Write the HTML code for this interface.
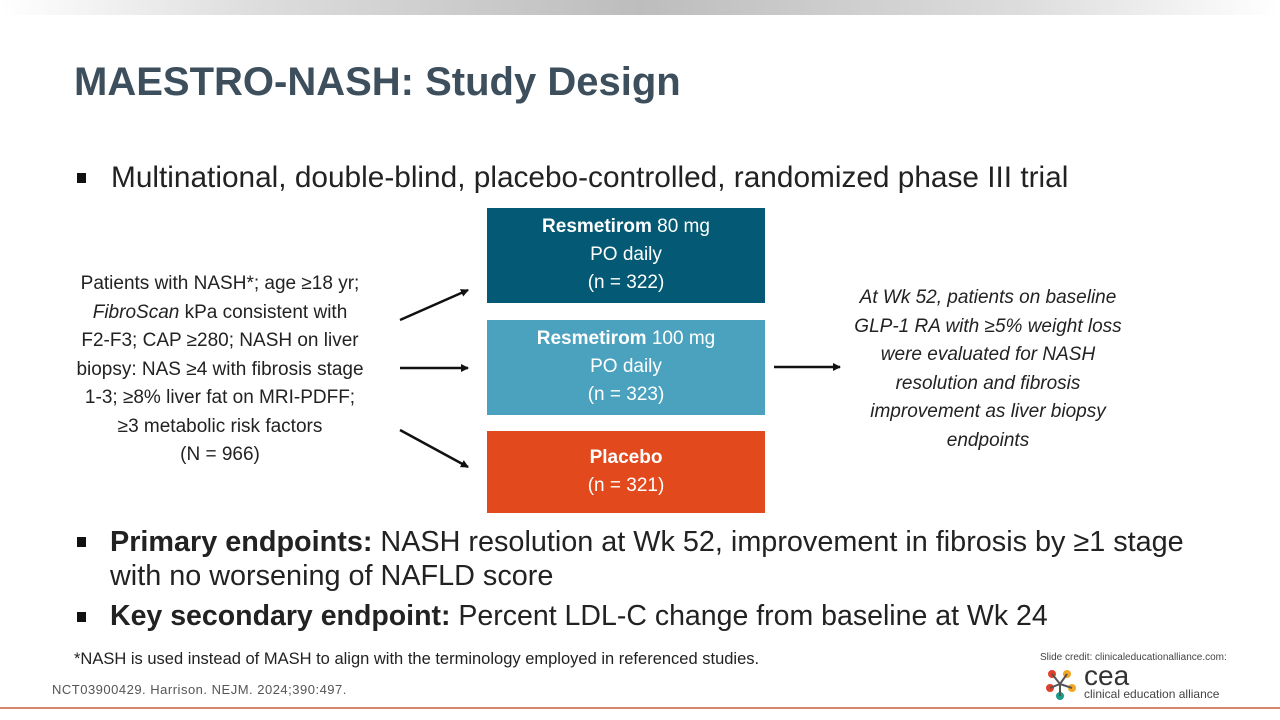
<!DOCTYPE html>
<html><head><meta charset="utf-8"><style>
body{margin:0;width:1280px;height:720px;position:relative;background:#fff;font-family:"Liberation Sans",sans-serif;overflow:hidden}
.a{position:absolute}
.box{position:absolute;left:487px;width:278px;color:#fff;text-align:center;font-size:19px;line-height:28px;font-family:"Liberation Sans",sans-serif}
.t{color:#222}
.sq{position:absolute;width:9px;height:10px;background:#111}
</style></head><body>
<div class="a" style="left:0;top:0;width:1280px;height:15px;background:linear-gradient(90deg,#fff 0%,#ddd 20%,#bdbdbd 50%,#ddd 80%,#fff 100%)"></div>
<div class="a" style="left:74px;top:60px;font-size:40px;font-weight:bold;color:#3d4f5c">MAESTRO-NASH: Study Design</div>
<div class="sq" style="left:77px;top:173px"></div>
<div class="a t" style="left:111px;top:161px;font-size:29.8px;white-space:nowrap">Multinational, double-blind, placebo-controlled, randomized phase III trial</div>
<div class="a t" style="left:20px;top:270px;width:400px;text-align:center;font-size:19px;line-height:28.5px;white-space:nowrap">Patients with NASH*; age ≥18 yr;<br><i>FibroScan</i> kPa consistent with<br>F2-F3; CAP ≥280; NASH on liver<br>biopsy: NAS ≥4 with fibrosis stage<br>1-3; ≥8% liver fat on MRI-PDFF;<br>≥3 metabolic risk factors<br>(N = 966)</div>
<div class="box" style="top:208px;height:95px;background:#045a74;padding-top:5px;box-sizing:border-box"><b>Resmetirom</b> 80 mg<br>PO daily<br>(n = 322)</div>
<div class="box" style="top:320px;height:95px;background:#4ba2bf;padding-top:5px;box-sizing:border-box"><b>Resmetirom</b> 100 mg<br>PO daily<br>(n = 323)</div>
<div class="box" style="top:431px;height:82px;background:#e24a1d;padding-top:13px;box-sizing:border-box"><b>Placebo</b><br>(n = 321)</div>
<svg class="a" style="left:0;top:0" width="1280" height="720"><defs><marker id="m" markerWidth="8" markerHeight="8" refX="7" refY="4" orient="auto" markerUnits="userSpaceOnUse"><path d="M0,0L8,4L0,8z" fill="#111"/></marker></defs>
<g stroke="#111" stroke-width="2.5" marker-end="url(#m)"><line x1="400" y1="320" x2="468" y2="290"/><line x1="400" y1="368" x2="468" y2="368"/><line x1="400" y1="430" x2="468" y2="467"/><line x1="774" y1="367" x2="840" y2="367"/></g></svg>
<div class="a t" style="left:843px;top:284px;width:290px;text-align:center;font-size:19px;line-height:28.5px;font-style:italic">At Wk 52, patients on baseline GLP-1 RA with ≥5% weight loss were evaluated for NASH resolution and fibrosis improvement as liver biopsy endpoints</div>
<div class="sq" style="left:77px;top:537px"></div>
<div class="a t" style="left:110px;top:525px;font-size:28.8px;line-height:34px;white-space:nowrap"><b>Primary endpoints:</b> NASH resolution at Wk 52, improvement in fibrosis by ≥1 stage<br>with no worsening of NAFLD score</div>
<div class="sq" style="left:77px;top:612px"></div>
<div class="a t" style="left:110px;top:600px;font-size:28.5px;white-space:nowrap"><b>Key secondary endpoint:</b> Percent LDL-C change from baseline at Wk 24</div>
<div class="a t" style="left:74px;top:650px;font-size:16.5px;white-space:nowrap">*NASH is used instead of MASH to align with the terminology employed in referenced studies.</div>
<div class="a" style="left:52px;top:682px;font-size:13px;letter-spacing:0.5px;color:#555;white-space:nowrap">NCT03900429. Harrison. NEJM. 2024;390:497.</div>
<div class="a" style="left:1040px;top:652px;font-size:10px;color:#444">Slide credit: clinicaleducationalliance.com:</div>
<svg class="a" style="left:1042px;top:666px" width="40" height="36"><circle cx="10" cy="8" r="4" fill="#e2402b"/><circle cx="25" cy="8" r="4" fill="#f2a623"/><circle cx="30" cy="22" r="4" fill="#f2a623"/><circle cx="8" cy="22" r="4" fill="#e2402b"/><circle cx="18" cy="30" r="4" fill="#1a9c8a"/><path d="M10 8L18 18L25 8M8 22L18 18L30 22M18 18L18 30" stroke="#555" stroke-width="2" fill="none"/></svg>
<div class="a" style="left:1084px;top:660px;font-size:28px;color:#333">cea</div>
<div class="a" style="left:1084px;top:687px;font-size:12px;color:#444">clinical education alliance</div>
<div class="a" style="left:0;top:707px;width:1280px;height:2px;background:#d7866b"></div>
</body></html>
